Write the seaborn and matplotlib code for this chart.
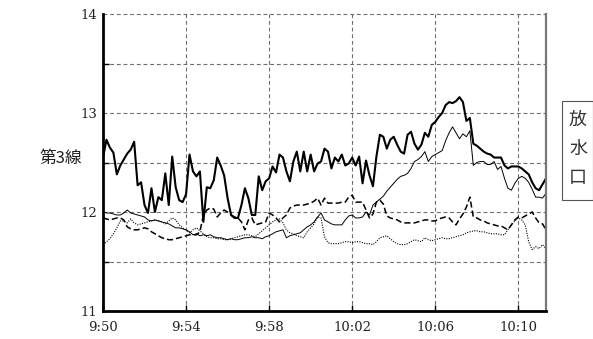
import matplotlib
matplotlib.use("Agg")
import matplotlib.pyplot as plt
import numpy as np
import pandas as pd
import seaborn as sns
from matplotlib.patches import Rectangle

# Water level on line 3, sampled every 10 seconds from 9:50
step_min = 10 / 60

level_thick = [
    12.55, 12.73, 12.65, 12.60, 12.38, 12.47, 12.53, 12.59, 12.63, 12.71,
    12.27, 12.30, 12.07, 11.99, 12.24, 12.00, 12.15, 12.12, 12.39, 12.07,
    12.56, 12.25, 12.12, 12.10, 12.18, 12.58, 12.41, 12.36, 12.41, 11.90,
    12.25, 12.24, 12.32, 12.55, 12.47, 12.37, 12.14, 11.97, 11.94, 11.94,
    12.07, 12.24, 12.14, 11.97, 11.97, 12.36, 12.22, 12.31, 12.34, 12.46,
    12.40, 12.58, 12.55, 12.41, 12.31, 12.51, 12.61, 12.41, 12.61, 12.41,
    12.58, 12.41, 12.49, 12.51, 12.64, 12.61, 12.44, 12.55, 12.51, 12.58,
    12.47, 12.49, 12.55, 12.47, 12.56, 12.29, 12.52, 12.37, 12.26, 12.56,
    12.78, 12.76, 12.64, 12.73, 12.76, 12.68, 12.61, 12.59, 12.78, 12.81,
    12.69, 12.63, 12.68, 12.80, 12.76, 12.88, 12.91, 12.96, 13.00, 13.08,
    13.11, 13.10, 13.12, 13.16, 13.11, 12.92, 12.95, 12.69, 12.67, 12.64,
    12.61, 12.59, 12.58, 12.55, 12.55, 12.55, 12.47, 12.44, 12.46, 12.46,
    12.46, 12.44, 12.41, 12.38, 12.30, 12.24, 12.22, 12.28, 12.34,
]

level_thin = [
    12.00, 11.99, 11.99, 11.98, 11.97, 11.97, 11.99, 12.02, 11.99, 11.98,
    11.97, 11.96, 11.95, 11.92, 11.91, 11.92, 11.91, 11.90, 11.89, 11.88,
    11.86, 11.84, 11.84, 11.83, 11.82, 11.80, 11.77, 11.78, 11.76, 11.77,
    11.76, 11.77, 11.75, 11.74, 11.74, 11.73, 11.72, 11.73, 11.72, 11.72,
    11.73, 11.74, 11.74, 11.75, 11.74, 11.74, 11.73, 11.75, 11.76, 11.78,
    11.80, 11.81, 11.82, 11.74, 11.76, 11.77, 11.78, 11.79, 11.82, 11.85,
    11.87, 11.90, 11.95, 11.99, 11.92, 11.90, 11.88, 11.87, 11.87, 11.87,
    11.92, 11.96, 11.97, 11.94, 11.94, 11.95, 12.00, 11.97, 12.07, 12.10,
    12.13, 12.16, 12.21, 12.25, 12.29, 12.33, 12.36, 12.37, 12.39, 12.44,
    12.51, 12.53, 12.56, 12.61, 12.51, 12.56, 12.58, 12.60, 12.62, 12.72,
    12.80, 12.86, 12.80, 12.74, 12.79, 12.76, 12.82, 12.47, 12.50, 12.51,
    12.51, 12.48, 12.48, 12.51, 12.43, 12.46, 12.34, 12.24, 12.22, 12.29,
    12.34, 12.36, 12.34, 12.30, 12.23, 12.15, 12.15, 12.14, 12.19,
]

level_dashed = [
    11.94, 11.93, 11.92, 11.93, 11.94, 11.94, 11.92, 11.85, 11.83, 11.82,
    11.82, 11.83, 11.84, 11.83, 11.80, 11.78, 11.76, 11.74, 11.73, 11.72,
    11.72, 11.73, 11.74, 11.75, 11.76, 11.77, 11.77, 11.77, 11.80, 11.97,
    12.02, 12.04, 12.03, 11.95, 11.99, 12.02, 12.00, 11.97, 11.95, 11.94,
    11.90, 11.82, 11.92, 11.94, 11.87, 11.88, 11.89, 11.90, 11.99, 11.97,
    11.94, 11.90, 11.94, 11.97, 12.04, 12.06, 12.07, 12.07, 12.07, 12.08,
    12.09, 12.11, 12.14, 12.07, 12.14, 12.09, 12.09, 12.09, 12.09, 12.10,
    12.10, 12.15, 12.17, 12.10, 12.10, 12.10, 12.02, 11.94, 11.98, 12.10,
    12.12, 12.08, 11.96, 11.94, 11.93, 11.92, 11.90, 11.89, 11.89, 11.89,
    11.89, 11.90, 11.91, 11.92, 11.92, 11.91, 11.91, 11.93, 11.94, 11.95,
    11.94, 11.90, 11.87, 11.93, 11.98, 12.05, 12.15, 11.95, 11.94, 11.92,
    11.91, 11.89, 11.88, 11.87, 11.86, 11.86, 11.84, 11.82, 11.87, 11.92,
    11.95, 11.94, 11.96, 11.98, 12.00, 11.94, 11.89, 11.88, 11.82,
]

level_dotted = [
    11.67, 11.70, 11.73, 11.78, 11.84, 11.91, 11.91, 11.89, 11.93, 11.89,
    11.87, 11.88, 11.89, 11.90, 11.91, 11.92, 11.91, 11.90, 11.88, 11.91,
    11.94, 11.92, 11.87, 11.84, 11.82, 11.79, 11.82, 11.84, 11.81, 11.78,
    11.75, 11.74, 11.74, 11.73, 11.73, 11.72, 11.72, 11.73, 11.74, 11.75,
    11.76, 11.77, 11.77, 11.76, 11.75, 11.78, 11.81, 11.84, 11.87, 11.90,
    11.92, 11.93, 11.89, 11.82, 11.79, 11.78, 11.76, 11.75, 11.74, 11.80,
    11.84, 11.88, 11.95, 11.94, 11.75, 11.69, 11.68, 11.68, 11.68, 11.69,
    11.70, 11.70, 11.69, 11.70, 11.70, 11.69, 11.68, 11.68, 11.67, 11.70,
    11.74, 11.75, 11.76, 11.73, 11.70, 11.68, 11.67, 11.67, 11.68, 11.70,
    11.72, 11.71, 11.70, 11.74, 11.72, 11.71, 11.72, 11.73, 11.74, 11.73,
    11.73, 11.74, 11.75, 11.76, 11.77, 11.79, 11.80, 11.81, 11.81, 11.80,
    11.80, 11.79, 11.78, 11.78, 11.78, 11.77, 11.77, 11.82, 11.87, 11.91,
    11.94, 11.92, 11.87, 11.70, 11.62, 11.65, 11.63, 11.67, 11.63,
]

tick_pos = [0, 4, 8, 12, 16, 20]
tick_labels = ["9:50", "9:54", "9:58", "10:02", "10:06", "10:10"]
y_major = [11, 12, 13, 14]
y_minor = [11.5, 12.5, 13.5]

minutes = np.arange(len(level_thick)) * step_min
df = pd.DataFrame({
    "minute": minutes,
    "thick": level_thick,
    "thin": level_thin,
    "dashed": level_dashed,
    "dotted": level_dotted,
})

sns.set_style("white")
plt.rcParams["font.family"] = ["DejaVu Serif"]

fig = plt.figure(figsize=(5.93, 3.39), dpi=100)
ax = fig.add_axes([103 / 593, 1 - 311 / 339, 443 / 593, 297 / 339])

grid_kw = dict(color="#6e6e6e", lw=0.8, ls=(0, (3.5, 2.5)), zorder=0)
for y in y_minor + [12, 13]:
    ax.axhline(y, **grid_kw)
ax.axhline(14, clip_on=False, **grid_kw)
for x in tick_pos[1:]:
    ax.axvline(x, **grid_kw)

sns.lineplot(data=df, x="minute", y="dotted", ax=ax, color="black",
             lw=0.8, ls=(0, (1, 1.2)))
sns.lineplot(data=df, x="minute", y="dashed", ax=ax, color="black",
             lw=1.1, ls=(0, (4, 2)))
sns.lineplot(data=df, x="minute", y="thin", ax=ax, color="black", lw=0.7)
sns.lineplot(data=df, x="minute", y="thick", ax=ax, color="black", lw=1.5)

ax.set_xlim(0, minutes[-1])
ax.set_ylim(11, 14)
ax.set_xticks(tick_pos)
ax.set_xticklabels(tick_labels)
ax.set_yticks(y_major)
ax.set_yticks(y_minor, minor=True)
ax.set_xlabel("")
ax.set_ylabel("")
ax.tick_params(axis="both", which="both", direction="in", length=4,
               width=1, color="black", labelsize=9.5, labelcolor="#222222")
ax.tick_params(axis="x", pad=7)
ax.tick_params(axis="y", pad=4)
ax.tick_params(axis="y", which="minor", left=True)
ax.tick_params(axis="x", bottom=True)

for side in ("left", "bottom"):
    ax.spines[side].set_color("black")
    ax.spines[side].set_linewidth(2)
ax.spines["top"].set_visible(False)
ax.spines["right"].set_color("#777777")
ax.spines["right"].set_linewidth(1.6)

fig.text(60.5 / 593, 1 - 158 / 339, "第3線", ha="center", va="center",
         fontsize=12, family=["Noto Sans CJK JP", "DejaVu Sans"],
         color="#222222")

# Vertical caption box on the right
fig.patches.append(Rectangle((562 / 593, 1 - 200 / 339), 31 / 593, 99 / 339,
                             transform=fig.transFigure, fill=False,
                             edgecolor="#555555", lw=0.8))
for k, ch in enumerate("放水口"):
    fig.text(578 / 593, 1 - (120 + 29 * k) / 339, ch, ha="center", va="center",
             fontsize=13, family=["Noto Sans CJK JP"], color="#333333")

fig.savefig("out.png", dpi=100)
